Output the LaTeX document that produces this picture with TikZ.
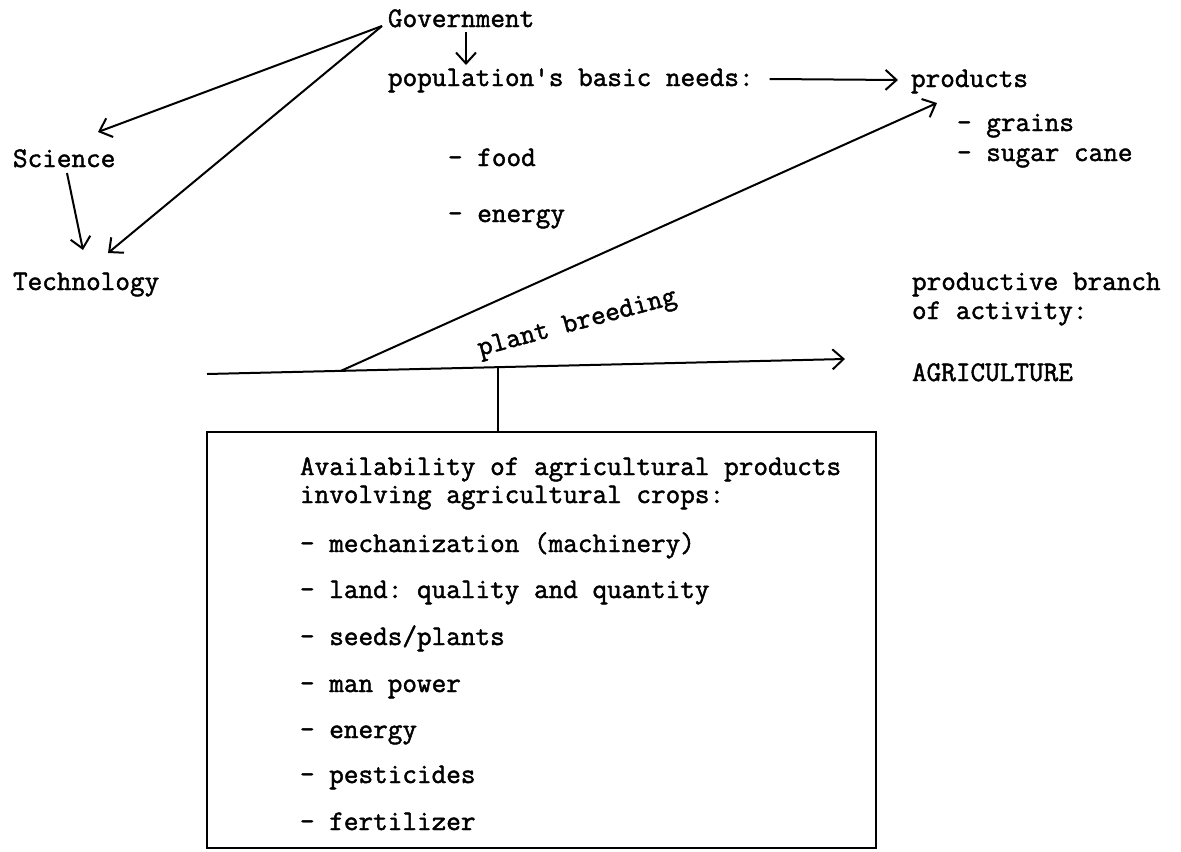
\documentclass[tikz,border=0pt]{standalone}
\usepackage{fontspec}
\setmonofont{Latin Modern Mono}[FakeBold=1.6]
\usetikzlibrary{arrows.meta,calc}
\begin{document}
\begin{tikzpicture}[x=0.5pt,y=-0.5pt,
  txt/.style={font=\ttfamily\fontsize{14.2}{16}\selectfont, inner sep=0pt, outer sep=0pt, anchor=base west},
  con/.style={line width=1pt, -{Straight Barb[length=5.5pt,width=10pt,line width=1pt]}},
  ln/.style={line width=1pt},
  boxstyle/.style={draw, line width=1.2pt, inner sep=0pt, minimum width=334.5pt, minimum height=208pt}]
\useasboundingbox (0,0) rectangle (1181,851);
% top texts
\node[txt] (gov) at (388,27) {Government};
\node[txt] (pop) at (388,86) {population\textquotesingle s basic needs:};
\node[txt] (prod) at (911,87) {products};
\node[txt] (grains) at (957,131) {- grains};
\node[txt] (sugar) at (957,161) {- sugar cane};
\node[txt] (food) at (448,166) {- food};
\node[txt] (energy) at (448,222) {- energy};
\node[txt] (sci) at (13,167) {Science};
\node[txt] (tech) at (13,290) {Technology};
\node[txt] (branch) at (912,290) {productive branch};
\node[txt] (act) at (912,319) {of activity:};
\node[txt] (agri) at (912,381) {AGRICULTURE};
\node[txt, rotate=15] (pb) at (480,356) {plant breeding};
% box
\node[boxstyle] (box) at (541.5,640) {};
\node[txt] (b1) at (300,475) {Availability of agricultural products};
\node[txt] (b2) at (300,503) {involving agricultural crops:};
\node[txt] (b3) at (300,552) {- mechanization (machinery)};
\node[txt] (b4) at (300,598) {- land: quality and quantity};
\node[txt] (b5) at (300,645) {- seeds/plants};
\node[txt] (b6) at (300,692) {- man power};
\node[txt] (b7) at (300,738) {- energy};
\node[txt] (b8) at (300,783) {- pesticides};
\node[txt] (b9) at (300,830) {- fertilizer};
% connectors
\draw[con] ($(gov.base west)+(-6,-1)$) -- ($(sci.base west)+(85,-35)$);
\draw[con] ($(gov.base west)+(-6,-1)$) -- ($(tech.base west)+(95,-37)$);
\draw[con] ($(sci.base west)+(54,6)$) -- ($(tech.base west)+(70,-40)$);
\draw[con] ($(gov.base west)+(78,5)$) -- ($(pop.base west)+(78,-21)$);
\draw[con] ($(pop.base east)+(16,-7)$) -- ($(prod.base west)+(-13,-7)$);
\coordinate (ml0) at (207,374);
\coordinate (ml1) at (845,359);
\coordinate (fork) at (341,370.8);
\coordinate (tap) at (498,367.2);
\draw[con] (ml0) -- (ml1);
\draw[con] (fork) -- ($(prod.base west)+(26,16)$);
\draw[ln] (tap) -- (tap |- box.north);
\end{tikzpicture}
\end{document}
